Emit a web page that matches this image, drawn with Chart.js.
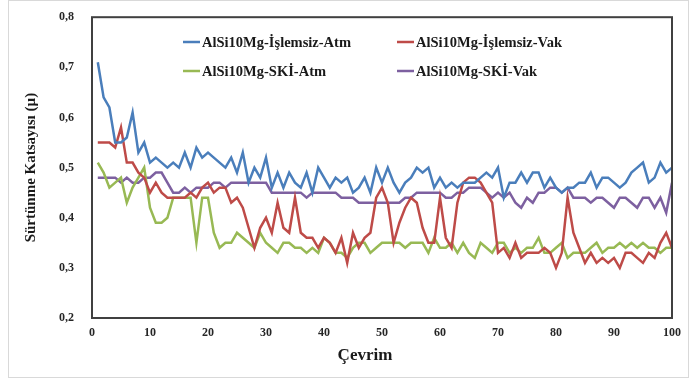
<!DOCTYPE html>
<html>
<head>
<meta charset="utf-8">
<script src="https://cdn.jsdelivr.net/npm/chart.js@4/dist/chart.umd.min.js"></script>
<style>
    html, body { margin: 0; padding: 0; background: #fff; }
    #wrap { width: 699px; height: 381px; }
</style>
</head>
<body>
<div id="wrap"><canvas id="friction_canvas"></canvas></div>
<script>
const cycles = [];
for(let i = 1; i <= 100; i++){
    cycles.push(i);
}

const series_names = [
    'AlSi10Mg-İşlemsiz-Atm',
    'AlSi10Mg-İşlemsiz-Vak',
    'AlSi10Mg-SKİ-Atm',
    'AlSi10Mg-SKİ-Vak'
];
const series_colors = ['#4a7ebb', '#be4b48', '#98b954', '#7d60a0'];

const islemsiz_atm = [
    0.71, 0.64, 0.62, 0.55, 0.55, 0.56, 0.61, 0.53, 0.55, 0.51,
    0.52, 0.51, 0.50, 0.51, 0.50, 0.53, 0.50, 0.54, 0.52, 0.53,
    0.52, 0.51, 0.50, 0.52, 0.49, 0.53, 0.47, 0.50, 0.48, 0.52,
    0.46, 0.49, 0.46, 0.49, 0.47, 0.46, 0.49, 0.45, 0.50, 0.48,
    0.46, 0.48, 0.47, 0.48, 0.45, 0.46, 0.48, 0.45, 0.50, 0.47,
    0.50, 0.47, 0.45, 0.47, 0.48, 0.50, 0.49, 0.50, 0.46, 0.48,
    0.46, 0.47, 0.46, 0.47, 0.47, 0.47, 0.48, 0.49, 0.48, 0.50,
    0.44, 0.47, 0.47, 0.49, 0.47, 0.49, 0.49, 0.46, 0.48, 0.46,
    0.45, 0.46, 0.46, 0.47, 0.47, 0.49, 0.46, 0.48, 0.48, 0.47,
    0.46, 0.47, 0.49, 0.50, 0.51, 0.47, 0.48, 0.51, 0.49, 0.50
];
const islemsiz_vak = [
    0.55, 0.55, 0.55, 0.54, 0.58, 0.51, 0.51, 0.49, 0.48, 0.45,
    0.47, 0.45, 0.44, 0.44, 0.44, 0.44, 0.45, 0.44, 0.46, 0.47,
    0.45, 0.46, 0.46, 0.43, 0.44, 0.42, 0.38, 0.34, 0.38, 0.40,
    0.37, 0.43, 0.38, 0.37, 0.44, 0.37, 0.36, 0.36, 0.34, 0.36,
    0.35, 0.33, 0.36, 0.31, 0.37, 0.34, 0.36, 0.37, 0.44, 0.46,
    0.43, 0.35, 0.39, 0.42, 0.44, 0.43, 0.38, 0.35, 0.35, 0.44,
    0.36, 0.34, 0.43, 0.47, 0.48, 0.48, 0.47, 0.45, 0.43, 0.33,
    0.34, 0.32, 0.35, 0.32, 0.33, 0.33, 0.33, 0.34, 0.33, 0.30,
    0.33, 0.44, 0.37, 0.34, 0.31, 0.33, 0.31, 0.32, 0.31, 0.32,
    0.30, 0.33, 0.33, 0.32, 0.31, 0.33, 0.32, 0.35, 0.37, 0.34
];
const ski_atm = [
    0.51, 0.49, 0.46, 0.47, 0.48, 0.43, 0.46, 0.48, 0.50, 0.42,
    0.39, 0.39, 0.40, 0.44, 0.44, 0.44, 0.44, 0.35, 0.44, 0.44,
    0.37, 0.34, 0.35, 0.35, 0.37, 0.36, 0.35, 0.34, 0.37, 0.35,
    0.34, 0.33, 0.35, 0.35, 0.34, 0.34, 0.33, 0.34, 0.33, 0.36,
    0.35, 0.33, 0.33, 0.32, 0.34, 0.35, 0.35, 0.33, 0.34, 0.35,
    0.35, 0.35, 0.35, 0.34, 0.35, 0.35, 0.35, 0.33, 0.36, 0.34,
    0.34, 0.35, 0.33, 0.35, 0.33, 0.32, 0.35, 0.34, 0.33, 0.35,
    0.35, 0.33, 0.34, 0.33, 0.34, 0.34, 0.36, 0.33, 0.33, 0.34,
    0.35, 0.32, 0.33, 0.33, 0.33, 0.34, 0.35, 0.33, 0.34, 0.34,
    0.35, 0.34, 0.35, 0.34, 0.35, 0.34, 0.34, 0.33, 0.34, 0.34
];
const ski_vak = [
    0.48, 0.48, 0.48, 0.48, 0.47, 0.48, 0.47, 0.47, 0.48, 0.48,
    0.49, 0.49, 0.47, 0.45, 0.45, 0.46, 0.45, 0.46, 0.46, 0.46,
    0.47, 0.47, 0.46, 0.47, 0.47, 0.47, 0.47, 0.47, 0.47, 0.47,
    0.45, 0.45, 0.45, 0.45, 0.45, 0.45, 0.44, 0.45, 0.45, 0.45,
    0.45, 0.45, 0.44, 0.44, 0.44, 0.43, 0.43, 0.43, 0.43, 0.43,
    0.43, 0.43, 0.43, 0.44, 0.44, 0.45, 0.45, 0.45, 0.45, 0.45,
    0.44, 0.44, 0.45, 0.45, 0.46, 0.46, 0.46, 0.45, 0.44, 0.45,
    0.44, 0.45, 0.43, 0.42, 0.44, 0.43, 0.45, 0.45, 0.46, 0.46,
    0.45, 0.46, 0.44, 0.44, 0.44, 0.43, 0.44, 0.44, 0.43, 0.42,
    0.44, 0.44, 0.43, 0.42, 0.44, 0.44, 0.42, 0.44, 0.41, 0.47
];
const all_series = [islemsiz_atm, islemsiz_vak, ski_atm, ski_vak];

const x_ticks = [0, 10, 20, 30, 40, 50, 60, 70, 80, 90, 100];
const y_ticks = [0.2, 0.3, 0.4, 0.5, 0.6, 0.7, 0.8];
const x_title = 'Çevrim';

const serif_font = "'Liberation Serif', 'DejaVu Serif', serif";

document.addEventListener("DOMContentLoaded", pageLoad);

function pageLoad(){
    createFrictionChart();
}

// frame around the whole picture and around the plot area
const framePlugin = {
    id: 'frame',
    beforeDraw(chart){
        const ctx = chart.ctx;
        ctx.save();
        ctx.fillStyle = '#ffffff';
        ctx.fillRect(0, 0, chart.width, chart.height);
        ctx.strokeStyle = '#d9d9d9';
        ctx.lineWidth = 1;
        ctx.strokeRect(8.5, 0.5, 680, 377);
        ctx.restore();
    },
    afterDatasetsDraw(chart){
        const a = chart.chartArea;
        const ctx = chart.ctx;
        ctx.save();
        ctx.strokeStyle = '#404040';
        ctx.lineWidth = 2;
        ctx.strokeRect(a.left, a.top, a.right - a.left, a.bottom - a.top);
        ctx.restore();
    }
};

// 2x2 legend inside the plot, like the excel original, plus the x title
const gridLegendPlugin = {
    id: 'gridLegend',
    afterDraw(chart){
        const ctx = chart.ctx;
        const cols = [183, 397];
        const rows = [42, 71];
        ctx.save();
        ctx.font = "bold 14.5px " + serif_font;
        ctx.textBaseline = 'middle';
        ctx.fillStyle = '#1a1a1a';
        chart.data.datasets.forEach(function(ds, i){
            const x = cols[i % 2];
            const y = rows[Math.floor(i / 2)];
            ctx.strokeStyle = ds.borderColor;
            ctx.lineWidth = 2.5;
            ctx.beginPath();
            ctx.moveTo(x, y);
            ctx.lineTo(x + 17, y);
            ctx.stroke();
            ctx.fillText(ds.label, x + 19, y + 1);
        });
        ctx.font = "bold 17px " + serif_font;
        ctx.textAlign = 'center';
        ctx.fillText(x_title, 365, 356);
        ctx.restore();
    }
};

function createFrictionChart(){
    const ctx = document.getElementById("friction_canvas");
    const datasets = series_names.map(function(name, i){
        return {
            label: name,
            data: cycles.map(function(c, j){ return { x: c, y: all_series[i][j] }; }),
            borderColor: series_colors[i],
            backgroundColor: series_colors[i],
            borderWidth: 2.5,
            pointRadius: 0,
            tension: 0,
            fill: false
        };
    });

    const config = {
        type: 'line',
        data: { datasets: datasets },
        options: {
            responsive: true,
            maintainAspectRatio: false,
            animation: false,
            layout: {
                padding: { left: 22, right: 27, top: 16, bottom: 0 }
            },
            plugins: {
                legend: { display: false },
                tooltip: { enabled: false }
            },
            scales: {
                x: {
                    type: 'linear',
                    min: 0,
                    max: 100,
                    afterBuildTicks: function(scale){
                        scale.ticks = x_ticks.map(function(v){ return { value: v }; });
                    },
                    afterFit: function(scale){
                        scale.height = 63;
                    },
                    ticks: {
                        padding: 0,
                        color: '#262626',
                        font: { family: serif_font, size: 12, weight: 'bold' },
                        maxRotation: 0
                    },
                    grid: { display: false },
                    border: { display: false }
                },
                y: {
                    min: 0.2,
                    max: 0.8,
                    afterBuildTicks: function(scale){
                        scale.ticks = y_ticks.map(function(v){ return { value: v }; });
                    },
                    afterFit: function(scale){
                        scale.width = 70;
                    },
                    ticks: {
                        padding: 10,
                        color: '#262626',
                        font: { family: serif_font, size: 12, weight: 'bold' },
                        callback: function(value){
                            return value.toFixed(1).replace('.', ',');
                        }
                    },
                    grid: { display: false },
                    border: { display: false },
                    title: {
                        display: true,
                        text: 'Sürtünme Katsayısı (µ)',
                        color: '#1a1a1a',
                        font: { family: serif_font, size: 15, weight: 'bold' },
                        padding: { top: 0, bottom: 0 }
                    }
                }
            }
        },
        plugins: [framePlugin, gridLegendPlugin]
    };

    return new Chart(ctx, config);
}
</script>
</body>
</html>
